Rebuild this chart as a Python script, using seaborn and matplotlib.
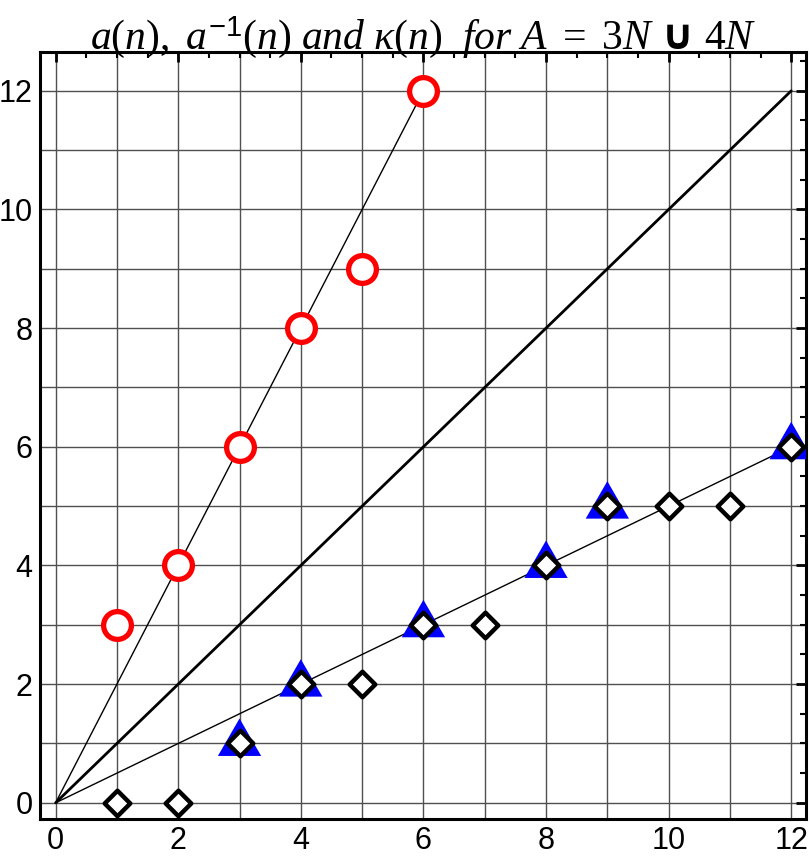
import matplotlib
matplotlib.use("Agg")
import matplotlib.pyplot as plt
from matplotlib.ticker import MultipleLocator
import seaborn as sns
import pandas as pd

sns.set_style("white")
plt.rcParams['font.family'] = ['Liberation Sans', 'DejaVu Sans']
plt.rcParams['mathtext.fontset'] = 'custom'
plt.rcParams['mathtext.rm'] = 'Liberation Serif'
plt.rcParams['mathtext.it'] = 'Liberation Serif:italic'
plt.rcParams['mathtext.sf'] = 'Liberation Sans'

# a(n): elements of A = 3N u 4N
a_n = [1, 2, 3, 4, 5, 6]
a_vals = [3, 4, 6, 8, 9, 12]
# a^-1(n): index of n in A
inv_n = [3, 4, 6, 8, 9, 12]
inv_vals = [1, 2, 3, 4, 5, 6]
# kappa(n): counting function
k_n = [1, 2, 3, 4, 5, 6, 7, 8, 9, 10, 11, 12]
k_vals = [0, 0, 1, 2, 2, 3, 3, 4, 5, 5, 5, 6]

# reference lines y = 2x, y = x, y = x/2
line_2x = pd.DataFrame({'x': [0, 6], 'y': [0, 12]})
line_1x = pd.DataFrame({'x': [0, 12], 'y': [0, 12]})
line_hx = pd.DataFrame({'x': [0, 12], 'y': [0, 6]})

fig, ax = plt.subplots(figsize=(8.1, 8.61), dpi=100)
fig.subplots_adjust(left=0.049, right=0.995, bottom=0.049, top=0.94)

# grid at every integer
for v in range(13):
    ax.axvline(v, color='#505050', lw=1.0, zorder=0)
    ax.axhline(v, color='#505050', lw=1.0, zorder=0)

sns.lineplot(data=line_2x, x='x', y='y', color='black', lw=1.0, ax=ax, zorder=2)
sns.lineplot(data=line_1x, x='x', y='y', color='black', lw=2.0, ax=ax, zorder=2)
sns.lineplot(data=line_hx, x='x', y='y', color='black', lw=1.0, ax=ax, zorder=2)

tri = [(-1, -0.577), (1, -0.577), (0, 1.155)]
sns.scatterplot(x=inv_n, y=inv_vals, marker=tri, s=36**2, color='#0000ff',
                edgecolor='none', ax=ax, zorder=3)
sns.scatterplot(x=k_n, y=k_vals, marker='D', s=13**2, facecolor='white',
                edgecolor='black', linewidth=3.2, ax=ax, zorder=4)
sns.scatterplot(x=a_n, y=a_vals, marker='o', s=20**2, facecolor='white',
                edgecolor='#ff0000', linewidth=3.8, ax=ax, zorder=4)

ax.set_xlim(-0.26, 12.24)
ax.set_ylim(-0.27, 12.66)
ax.set_xlabel('')
ax.set_ylabel('')

ax.xaxis.set_major_locator(MultipleLocator(2))
ax.yaxis.set_major_locator(MultipleLocator(2))
ax.xaxis.set_minor_locator(MultipleLocator(0.5))
ax.yaxis.set_minor_locator(MultipleLocator(0.5))
ax.tick_params(which='both', direction='in', top=True, right=True, color='black')
ax.tick_params(which='major', length=7, width=2, labelsize=22, pad=5,
               labelcolor='black')
ax.tick_params(which='minor', length=4, width=1.5)
for sp in ax.spines.values():
    sp.set_color('black')
    sp.set_linewidth(2.2)

ax.set_title(r"$a(n),\ a^{\mathsf{-1}}(n)\ and\ \kappa(n)\ \ for\ A\ =\ \mathit{3N}\ \mathbf{\cup}\ \mathit{4N}$",
             fontsize=30, pad=2, color='black')

plt.savefig('out.png', dpi=100)
